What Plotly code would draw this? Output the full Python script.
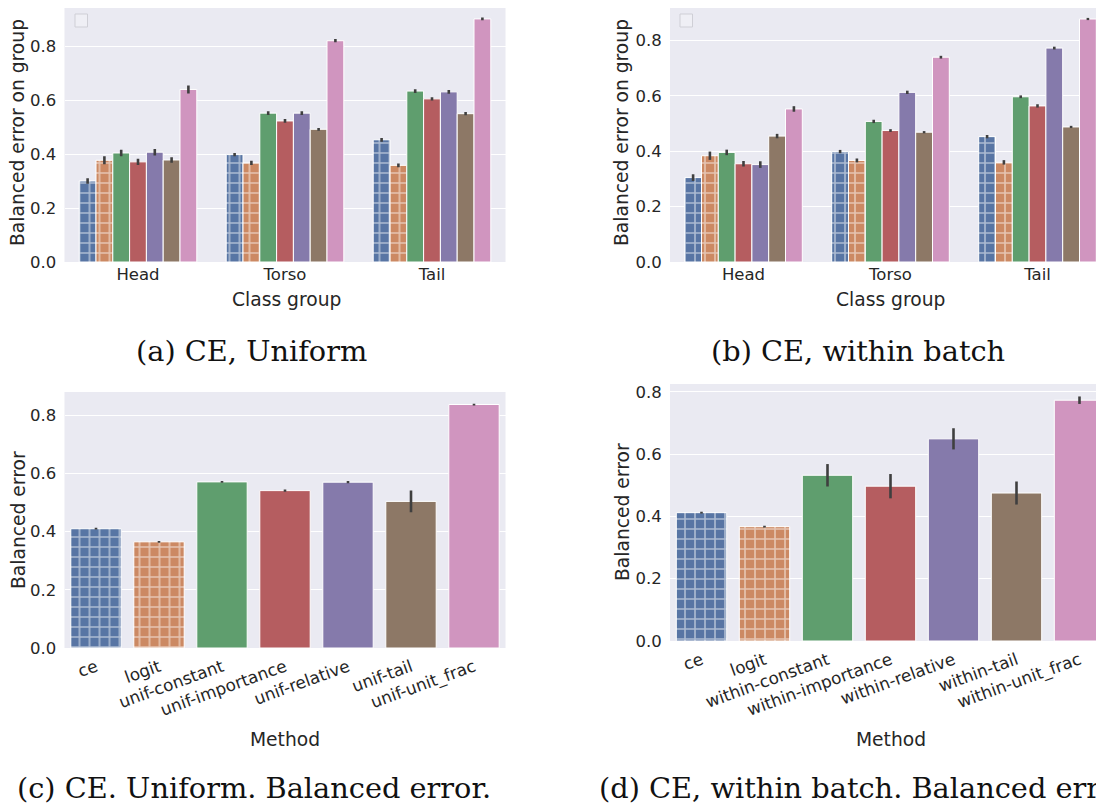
import plotly.graph_objects as go

W, H = 1104, 806
OFF = 8  # page body margin offset of the figure inside the window

groups = ["Head", "Torso", "Tail"]
methods_ab = ["ce", "logit", "constant", "importance", "relative", "tail", "unit_frac"]
colors = ["#5875A4", "#CC8963", "#5F9E6E", "#B55D60", "#857AAB", "#8D7866", "#D095BF"]
patterns = ["+", "+", "", "", "", "", ""]

# panel (a): rows = methods, cols = Head, Torso, Tail
a_vals = [
    [0.301, 0.399, 0.454],
    [0.378, 0.368, 0.359],
    [0.405, 0.553, 0.635],
    [0.372, 0.524, 0.606],
    [0.408, 0.553, 0.632],
    [0.379, 0.493, 0.551],
    [0.641, 0.822, 0.903],
]
a_err = [
    [0.010, 0.006, 0.007],
    [0.015, 0.008, 0.007],
    [0.012, 0.007, 0.007],
    [0.012, 0.007, 0.006],
    [0.012, 0.007, 0.007],
    [0.010, 0.005, 0.006],
    [0.015, 0.006, 0.005],
]
# panel (b)
b_vals = [
    [0.305, 0.399, 0.453],
    [0.384, 0.367, 0.360],
    [0.396, 0.508, 0.597],
    [0.355, 0.475, 0.564],
    [0.352, 0.613, 0.773],
    [0.455, 0.469, 0.488],
    [0.553, 0.740, 0.878],
]
b_err = [
    [0.012, 0.006, 0.006],
    [0.015, 0.007, 0.008],
    [0.010, 0.006, 0.005],
    [0.010, 0.005, 0.006],
    [0.012, 0.006, 0.005],
    [0.008, 0.004, 0.004],
    [0.010, 0.005, 0.004],
]
# panel (c)
c_methods = ["ce", "logit", "unif-constant", "unif-importance", "unif-relative", "unif-tail", "unif-unit_frac"]
c_vals = [0.410, 0.365, 0.571, 0.541, 0.570, 0.504, 0.837]
c_err = [0.003, 0.003, 0.003, 0.004, 0.004, 0.037, 0.003]
# panel (d)
d_methods = ["ce", "logit", "within-constant", "within-importance", "within-relative", "within-tail", "within-unit_frac"]
d_vals = [0.412, 0.367, 0.532, 0.497, 0.649, 0.475, 0.773]
d_err = [0.003, 0.003, 0.036, 0.039, 0.034, 0.037, 0.012]

y_ticks = [0.0, 0.2, 0.4, 0.6, 0.8]
y_tops = {"a": 0.951, "b": 0.925, "c": 0.880, "d": 0.825}

ERRC = "#3F3F3F"
BG = "#EAEAF2"

fig = go.Figure()

def px_x(p):
    return min(1.0, max(0.0, (p - OFF) / W))

def px_y(p):
    return min(1.0, max(0.0, 1 - (p - OFF) / H))

def marker_for(i):
    return dict(color=colors[i], line=dict(color="white", width=1),
                pattern=dict(shape=patterns[i], fgcolor="white", bgcolor=colors[i],
                             fillmode="overlay", size=10, solidity=0.3))

# grouped panels
for axn, vals, errs in (("", a_vals, a_err), ("2", b_vals, b_err)):
    for i, m in enumerate(methods_ab):
        fig.add_trace(go.Bar(
            x=groups, y=vals[i], name=m, showlegend=False,
            xaxis="x" + axn, yaxis="y" + axn,
            marker=marker_for(i),
            error_y=dict(type="data", array=errs[i], visible=True, color=ERRC, thickness=2.6, width=0),
            offsetgroup=str(i),
        ))

# single-series panels: one trace per bar, all in the same offset group
for axn, cats, vals, errs in (("3", c_methods, c_vals, c_err), ("4", d_methods, d_vals, d_err)):
    for i in range(len(cats)):
        fig.add_trace(go.Bar(
            x=[cats[i]], y=[vals[i]], name=cats[i], showlegend=False,
            xaxis="x" + axn, yaxis="y" + axn,
            marker=marker_for(i),
            error_y=dict(type="data", array=[errs[i]], visible=True, color=ERRC, thickness=2.6, width=0),
            offsetgroup="single",
        ))

tickfont = dict(family="DejaVu Sans", size=16.5, color="#262626")
rotfont = dict(family="DejaVu Sans", size=16.8, color="#262626")

left_dom = [px_x(64.5), px_x(505.5)]
right_dom = [px_x(670), 1.0]
right_px = W - (670 - OFF)

def xax(dom, anchor, rng, cats, angle=0, font=tickfont, tl=0):
    return dict(domain=dom, anchor=anchor, range=rng, showgrid=False, zeroline=False,
                type="category", categoryorder="array", categoryarray=cats,
                showline=False, ticks="outside" if tl else "", ticklen=max(tl, 1),
                tickcolor="rgba(0,0,0,0)",
                tickfont=font, tickangle=angle, fixedrange=True, automargin=False)

def yax(bottom, top, anchor, top_val):
    top_c = max(top, OFF)
    tv = top_val * (bottom - top_c) / (bottom - top)
    return dict(domain=[px_y(bottom), px_y(top_c)], anchor=anchor, range=[0, tv],
                tickvals=y_ticks, tickformat=".1f",
                showgrid=True, gridcolor="white", gridwidth=1.2, zeroline=False, showline=False,
                ticks="outside", ticklen=4, tickcolor="rgba(0,0,0,0)",
                tickfont=tickfont, fixedrange=True, automargin=False)

fig.update_layout(
    width=W, height=H,
    margin=dict(l=0, r=0, t=0, b=0, autoexpand=False),
    paper_bgcolor="white", plot_bgcolor=BG,
    barmode="group", bargap=0.2, bargroupgap=0,
    showlegend=False,
    xaxis=xax(left_dom, "y", [-0.5, 2.5], groups),
    yaxis=yax(262, 6, "x", y_tops["a"]),
    xaxis2=xax(right_dom, "y2", [-0.5, -0.5 + right_px / 147.0], groups),
    yaxis2=yax(262, 6, "x2", y_tops["b"]),
    xaxis3=xax(left_dom, "y3", [-0.5, 6.5], c_methods, angle=-20, font=rotfont, tl=2),
    yaxis3=yax(648, 392, "x3", y_tops["c"]),
    xaxis4=xax(right_dom, "y4", [-0.5, -0.5 + right_px / 63.0], d_methods, angle=-20, font=rotfont, tl=2),
    yaxis4=yax(641, 384, "x4", y_tops["d"]),
)

titlefont = dict(family="DejaVu Sans", size=18.7, color="#262626")
capfont = dict(family="DejaVu Serif", size=28.8, color="#111111")

def ann(text, x, y, font, angle=0, xanchor="center"):
    fig.add_annotation(text=text, x=px_x(x), y=px_y(y), xref="paper", yref="paper",
                       showarrow=False, font=font, textangle=angle, xanchor=xanchor, yanchor="middle")

ann("Balanced error on group", 18, 133, titlefont, angle=-90)
ann("Balanced error on group", 622, 133, titlefont, angle=-90)
ann("Balanced error", 18, 520, titlefont, angle=-90)
ann("Balanced error", 622, 512, titlefont, angle=-90)
ann("Class group", 286, 299, titlefont)
ann("Class group", 890, 299, titlefont)
ann("Method", 285, 739, titlefont)
ann("Method", 891, 739, titlefont)

ann("(a) CE, Uniform", 251, 351, capfont)
ann("(b) CE, within batch", 858, 351, capfont)
ann("(c) CE. Uniform. Balanced error.", 254, 788, capfont)
ann("(d) CE, within batch. Balanced error", 597, 788, capfont, xanchor="left")

# empty legend frames
for x0 in (75, 680):
    fig.add_shape(type="rect", xref="paper", yref="paper",
                  x0=px_x(x0), x1=px_x(x0 + 12.5), y0=px_y(27), y1=px_y(14),
                  line=dict(color="#CFCFD6", width=1), fillcolor="rgba(255,255,255,0.25)")

fig.write_html("out.html")
